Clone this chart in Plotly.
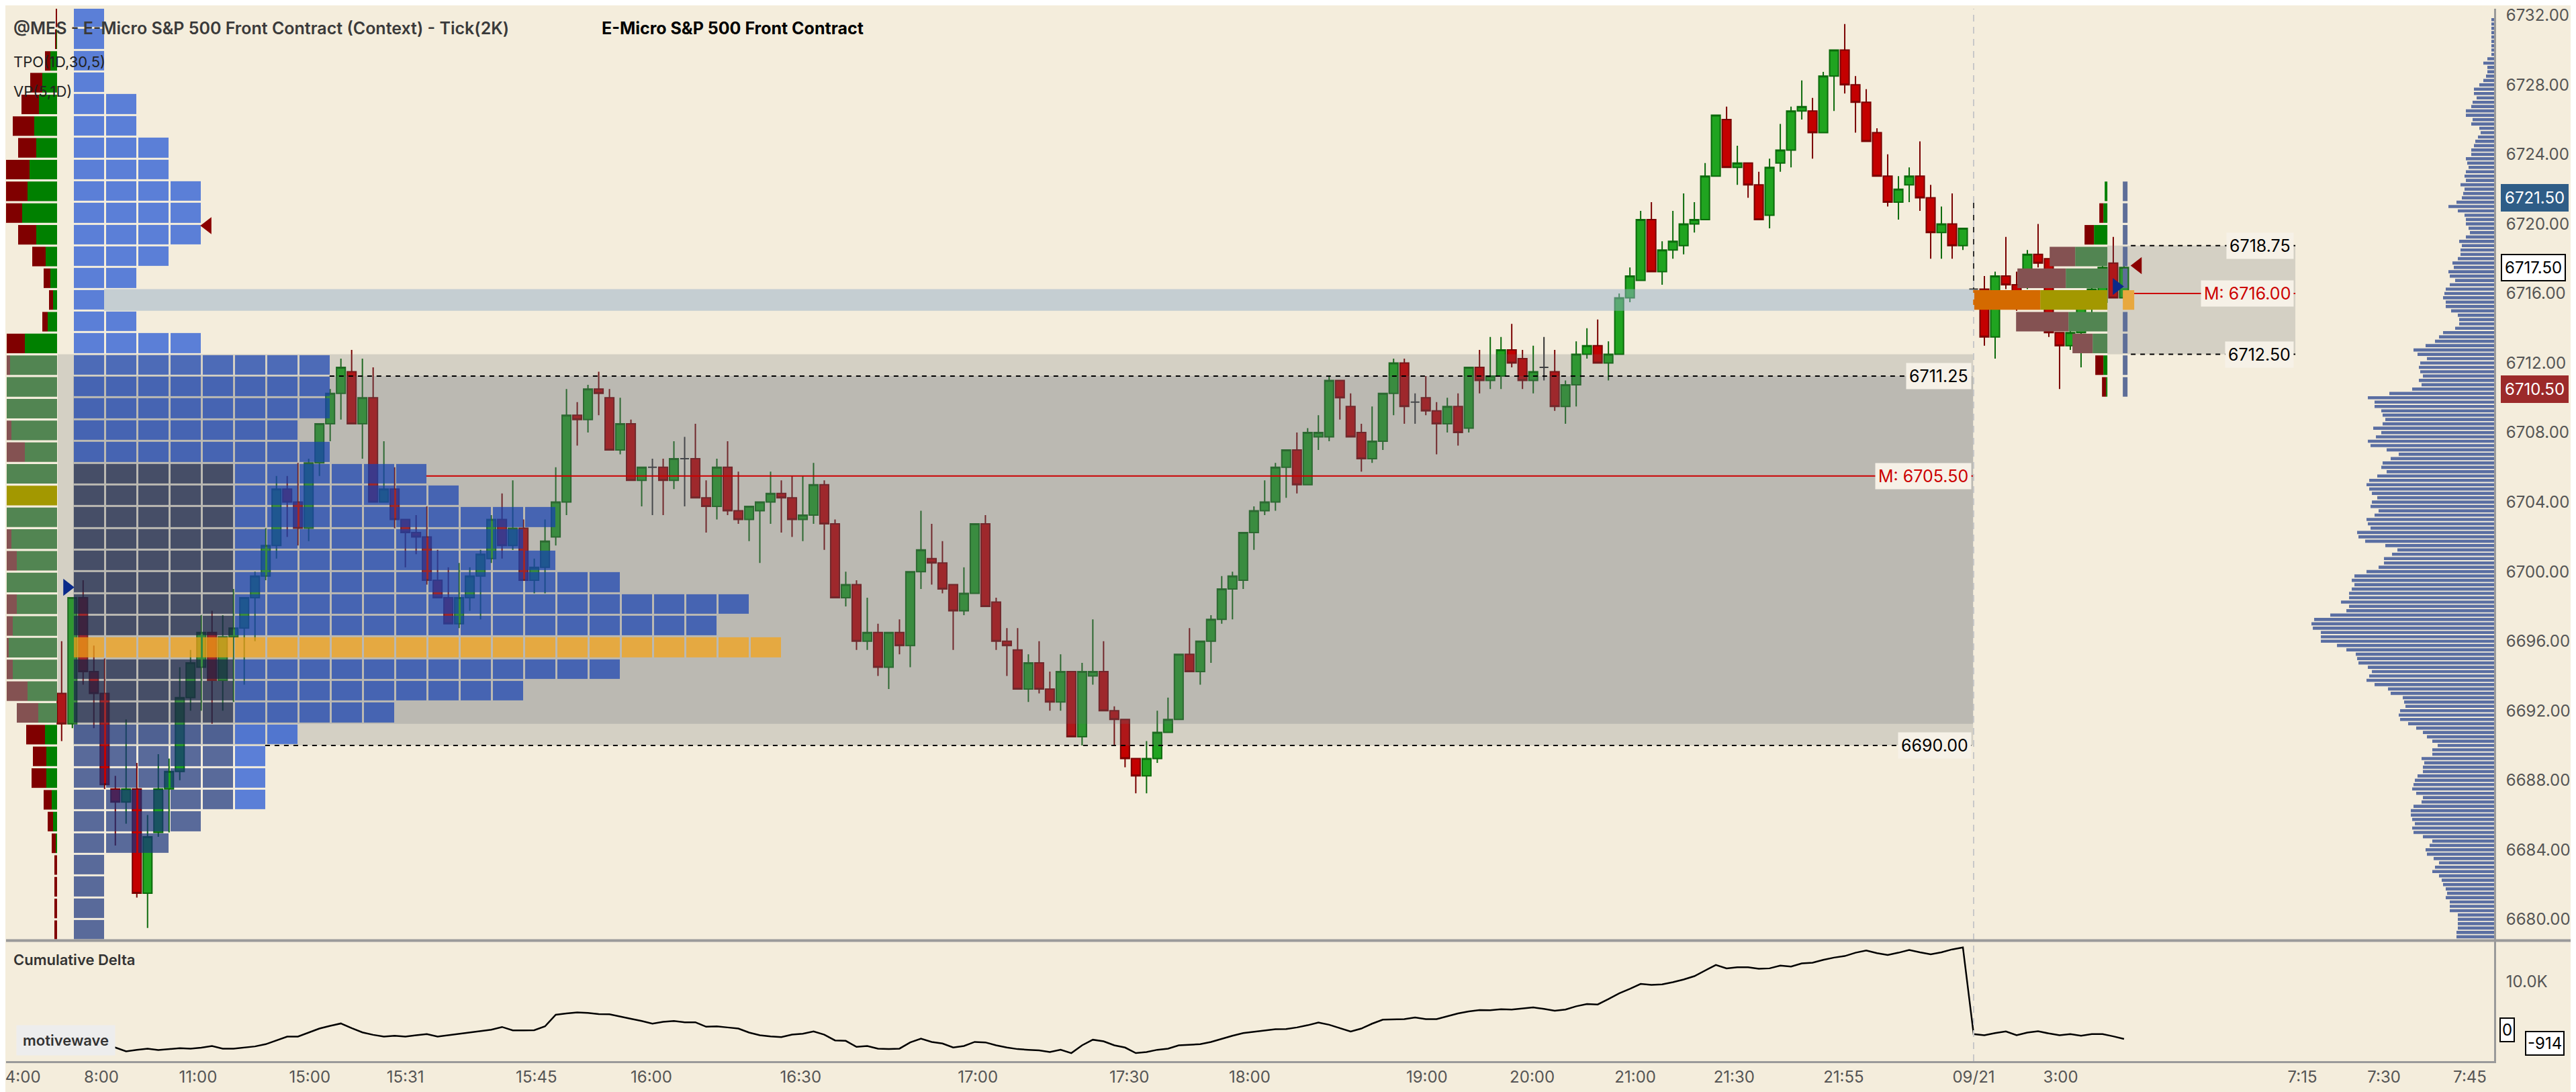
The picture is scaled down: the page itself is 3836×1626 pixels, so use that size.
import plotly.graph_objects as go

# ---------------- data ----------------
# 2K-tick bars, oldest first (bars 0-177 = 09/20 session, 178-192 = 09/21)
bar_open = [
    6693.0, 6691.25, 6698.5, 6694.25, 6693.0, 6687.5, 6686.75, 6687.5, 6681.5, 6685.0,
    6687.5, 6688.5, 6692.75, 6694.5, 6696.5, 6693.75, 6696.25, 6696.75, 6698.5, 6699.75,
    6701.5, 6704.75, 6704.0, 6702.5, 6706.25, 6708.5, 6710.25, 6711.5, 6708.5, 6710.0,
    6704.0, 6704.75, 6703.0, 6702.25, 6702.0, 6699.5, 6698.5, 6697.0, 6698.5, 6699.75,
    6700.75, 6703.0, 6701.5, 6702.5, 6699.5, 6700.25, 6702.0, 6704.0, 6709.0, 6708.75,
    6710.5, 6710.0, 6707.0, 6708.5, 6705.25, 6706.0, 6706.0, 6705.25, 6706.5, 6706.5,
    6704.25, 6703.75, 6706.0, 6703.5, 6703.0, 6703.5, 6704.0, 6704.5, 6704.25, 6703.0,
    6703.25, 6705.0, 6702.75, 6698.5, 6699.25, 6696.0, 6696.5, 6694.5, 6696.5, 6695.75,
    6700.0, 6700.75, 6700.5, 6699.25, 6697.75, 6698.75, 6702.75, 6698.25, 6696.0, 6695.5,
    6693.25, 6694.75, 6693.25, 6692.5, 6694.25, 6690.5, 6694.0, 6694.25, 6692.0, 6691.5,
    6689.25, 6688.25, 6689.25, 6690.75, 6691.5, 6695.25, 6694.25, 6696.0, 6697.25, 6699.0,
    6699.5, 6702.25, 6703.5, 6704.0, 6706.0, 6707.0, 6705.0, 6707.75, 6707.75, 6711.0,
    6709.5, 6708.0, 6706.5, 6707.5, 6710.25, 6712.0, 6709.75, 6710.0, 6709.25, 6708.5,
    6709.5, 6708.25, 6711.75, 6711.0, 6711.25, 6712.75, 6712.25, 6711.0, 6711.75, 6711.5,
    6709.5, 6710.75, 6712.5, 6713.0, 6712.0, 6712.5, 6715.75, 6716.75, 6720.25, 6717.25,
    6718.5, 6718.75, 6720.0, 6720.25, 6722.75, 6726.0, 6723.25, 6723.5, 6722.25, 6720.5,
    6723.5, 6724.25, 6726.5, 6726.5, 6725.25, 6728.5, 6730.0, 6728.0, 6727.0, 6725.25,
    6722.75, 6721.25, 6722.25, 6722.75, 6721.5, 6719.5, 6720.0, 6718.75,
    6716.25, 6716.25, 6713.5, 6717.0, 6716.5, 6716.5, 6718.25, 6718.0, 6713.75, 6713.0,
    6713.75, 6715.25, 6715.5, 6717.75, 6715.75,
]
bar_high = [
    6696.0, 6698.5, 6699.5, 6695.75, 6695.0, 6688.25, 6691.5, 6689.0, 6686.0, 6689.5,
    6689.25, 6694.5, 6695.5, 6697.5, 6697.75, 6697.5, 6699.0, 6698.5, 6700.0, 6702.5,
    6705.5, 6705.5, 6706.25, 6706.5, 6708.5, 6710.5, 6712.25, 6712.75, 6712.25, 6711.75,
    6707.5, 6706.0, 6703.0, 6703.25, 6703.75, 6701.25, 6700.25, 6700.5, 6700.25, 6701.25,
    6703.25, 6704.5, 6705.25, 6703.0, 6700.75, 6703.0, 6706.0, 6710.5, 6709.75, 6710.75,
    6711.5, 6710.5, 6710.0, 6708.75, 6706.0, 6706.5, 6706.5, 6707.5, 6707.75, 6708.5,
    6705.25, 6706.5, 6707.5, 6705.75, 6703.75, 6704.0, 6705.75, 6705.25, 6705.5, 6705.5,
    6706.25, 6705.25, 6703.0, 6700.0, 6699.5, 6698.5, 6697.0, 6696.5, 6697.25, 6700.0,
    6703.5, 6702.75, 6701.75, 6699.25, 6700.25, 6702.75, 6703.25, 6698.5, 6696.75, 6696.75,
    6695.25, 6696.0, 6694.25, 6695.25, 6694.25, 6694.75, 6697.25, 6696.0, 6692.25, 6691.5,
    6689.25, 6690.25, 6692.0, 6692.75, 6695.25, 6696.75, 6696.0, 6697.5, 6699.75, 6700.0,
    6702.25, 6703.75, 6705.25, 6706.25, 6707.0, 6708.0, 6708.25, 6709.0, 6711.25, 6711.0,
    6710.25, 6708.5, 6709.5, 6710.25, 6712.25, 6712.25, 6710.25, 6711.25, 6709.75, 6710.0,
    6710.25, 6711.75, 6712.75, 6713.5, 6713.5, 6714.25, 6712.75, 6713.0, 6713.5, 6712.75,
    6711.0, 6713.25, 6714.0, 6714.5, 6713.25, 6716.0, 6717.5, 6720.75, 6721.25, 6719.0,
    6720.75, 6721.75, 6721.25, 6723.5, 6726.25, 6726.75, 6724.5, 6723.5, 6723.0, 6723.75,
    6725.75, 6726.75, 6728.25, 6727.25, 6728.75, 6730.0, 6731.5, 6728.5, 6727.75, 6725.5,
    6724.0, 6722.75, 6723.25, 6724.75, 6722.25, 6721.0, 6721.75, 6719.75,
    6721.5, 6717.0, 6717.25, 6719.25, 6717.25, 6718.5, 6720.0, 6718.0, 6713.75, 6714.0,
    6715.5, 6716.5, 6717.75, 6719.25, 6717.75,
]
bar_low = [
    6690.25, 6691.0, 6693.5, 6691.0, 6687.5, 6684.25, 6685.5, 6681.25, 6679.5, 6684.75,
    6685.0, 6688.0, 6692.0, 6692.0, 6691.25, 6692.0, 6692.5, 6693.5, 6696.0, 6699.5,
    6700.75, 6702.0, 6701.5, 6701.75, 6705.5, 6707.5, 6708.75, 6708.5, 6706.5, 6704.0,
    6704.0, 6702.5, 6700.25, 6701.0, 6699.25, 6698.5, 6697.0, 6696.75, 6697.75, 6697.25,
    6700.5, 6700.75, 6701.25, 6699.5, 6698.75, 6698.75, 6701.5, 6703.25, 6707.25, 6708.0,
    6709.0, 6707.0, 6706.75, 6705.25, 6703.75, 6703.25, 6703.25, 6704.75, 6703.75, 6704.25,
    6702.25, 6703.0, 6703.25, 6702.75, 6701.75, 6700.5, 6702.75, 6702.25, 6702.0, 6701.75,
    6702.75, 6701.25, 6698.5, 6698.0, 6695.5, 6695.5, 6694.0, 6693.25, 6695.25, 6694.5,
    6699.0, 6699.25, 6698.75, 6695.5, 6697.5, 6698.75, 6698.0, 6695.5, 6694.0, 6693.25,
    6692.5, 6693.0, 6692.0, 6692.0, 6690.5, 6690.0, 6693.5, 6692.0, 6690.0, 6688.75,
    6687.25, 6687.25, 6689.0, 6690.75, 6691.5, 6694.25, 6693.5, 6694.75, 6697.0, 6697.25,
    6699.0, 6701.25, 6703.25, 6703.5, 6704.25, 6704.5, 6705.0, 6707.0, 6707.5, 6708.75,
    6707.75, 6705.75, 6706.25, 6707.0, 6709.0, 6708.5, 6708.5, 6709.0, 6706.75, 6708.0,
    6707.25, 6708.0, 6710.25, 6710.5, 6710.5, 6711.75, 6710.5, 6710.25, 6711.0, 6709.25,
    6708.5, 6709.5, 6712.25, 6712.0, 6711.0, 6712.5, 6715.5, 6716.75, 6717.25, 6716.5,
    6718.0, 6718.25, 6719.5, 6720.25, 6722.75, 6723.25, 6722.25, 6721.5, 6720.25, 6719.75,
    6723.0, 6723.25, 6726.0, 6723.75, 6725.25, 6726.5, 6727.5, 6725.25, 6724.75, 6722.75,
    6721.0, 6720.25, 6721.25, 6720.75, 6718.0, 6718.0, 6718.0, 6718.5,
    6716.25, 6713.0, 6712.25, 6716.25, 6715.0, 6716.25, 6717.5, 6713.5, 6710.5, 6712.75,
    6711.75, 6714.5, 6715.25, 6715.75, 6715.5,
]
bar_close = [
    6691.25, 6698.5, 6694.25, 6693.0, 6687.75, 6686.75, 6687.5, 6681.5, 6684.75, 6687.5,
    6688.5, 6692.75, 6694.75, 6696.5, 6693.75, 6696.25, 6696.75, 6698.5, 6699.75, 6701.5,
    6704.75, 6704.0, 6702.5, 6706.25, 6708.5, 6710.25, 6711.75, 6708.5, 6710.0, 6704.0,
    6704.75, 6703.0, 6702.25, 6702.0, 6699.5, 6698.5, 6697.0, 6698.5, 6699.75, 6701.0,
    6703.0, 6701.5, 6702.5, 6699.5, 6700.25, 6701.75, 6704.0, 6709.0, 6708.75, 6710.5,
    6710.25, 6707.0, 6708.5, 6705.25, 6706.0, 6706.0, 6705.25, 6706.5, 6706.5, 6704.25,
    6703.75, 6706.0, 6703.5, 6703.0, 6703.75, 6704.0, 6704.5, 6704.25, 6703.0, 6703.25,
    6705.0, 6702.75, 6698.5, 6699.25, 6696.0, 6696.5, 6694.5, 6696.5, 6695.75, 6700.0,
    6701.25, 6700.5, 6699.0, 6697.75, 6698.75, 6702.75, 6698.0, 6696.0, 6695.75, 6693.25,
    6694.75, 6693.25, 6692.5, 6694.25, 6690.5, 6694.25, 6694.25, 6692.0, 6691.5, 6689.25,
    6688.25, 6689.25, 6690.75, 6691.5, 6695.25, 6694.25, 6696.0, 6697.25, 6699.0, 6699.75,
    6702.25, 6703.5, 6704.0, 6706.0, 6707.0, 6705.0, 6708.0, 6708.0, 6711.0, 6710.0,
    6707.75, 6706.5, 6707.5, 6710.25, 6712.0, 6709.5, 6709.75, 6709.25, 6708.5, 6709.5,
    6708.0, 6711.75, 6711.0, 6711.25, 6712.75, 6712.0, 6711.0, 6711.5, 6711.75, 6709.5,
    6710.75, 6712.5, 6713.0, 6712.0, 6712.5, 6715.75, 6717.0, 6720.25, 6717.25, 6718.5,
    6719.0, 6720.0, 6720.25, 6722.75, 6726.25, 6723.25, 6723.5, 6722.25, 6720.25, 6723.25,
    6724.25, 6726.5, 6726.75, 6725.25, 6728.5, 6730.0, 6728.0, 6727.0, 6724.75, 6722.75,
    6721.25, 6722.0, 6722.75, 6721.5, 6719.5, 6720.0, 6718.75, 6719.75,
    6716.25, 6713.5, 6717.0, 6716.5, 6715.25, 6718.25, 6717.75, 6713.75, 6713.0, 6713.75,
    6715.25, 6716.25, 6717.5, 6715.75, 6717.5,
]

# cumulative delta, one value per bar
cum_delta = [
    340, -400, -1200, -2000, -2400,
    -2540, -3260, -2970, -2750, -3010, -2840, -2670, -2750, -2580, -2250,
    -2750, -2750, -2540, -2330, -1910, -1190, -470, -470, 300, 1060,
    1570, 2030, 1140, 340, -130, -470, -300, -470, -210, 0,
    -470, -210, 40, 300, 550, 850, 1360, 720, 720, 760,
    1480, 3680, 3940, 4110, 4020, 3810, 3770, 3390, 2920, 2500,
    1990, 2330, 2500, 2250, 2250, 1400, 1480, 1270, 1060, 300,
    -210, -420, -550, -90, 90, 510, -90, -1190, -1270, -2410,
    -2250, -2750, -2840, -2750, -1570, -850, -1480, -1780, -2540, -2250,
    -1480, -1570, -2120, -2540, -2840, -2970, -3090, -3390, -2970, -3600,
    -2120, -1060, -1360, -2120, -2540, -3600, -3390, -2970, -2750, -2120,
    -1990, -1910, -1480, -850, -300, 210, 420, 640, 930, 970,
    1270, 1690, 2200, 1780, 1140, 510, 1060, 1990, 2750, 2840,
    2840, 3180, 2840, 2840, 3390, 3940, 4320, 4570, 4530, 4740,
    4660, 4870, 5080, 4790, 4450, 4660, 5290, 5720, 5630, 6650,
    7750, 8600, 9530, 9360, 9440, 9870, 10380, 11010, 12070, 13130,
    12490, 12710, 12710, 12410, 12490, 13000, 12830, 13430, 13550, 14100,
    14530, 14820, 15460, 15880, 15370, 15030, 15460, 15970, 15540, 15160,
    15540, 16090, 16470,
    0, -210, 210, 510, -210, 300, 550, 130, -210, 0, -300, 0, 0, -420, -914,
]

time_labels = ['4:00', '8:00', '11:00', '15:00', '15:31', '15:45', '16:00', '16:30', '17:00',
               '17:30', '18:00', '19:00', '20:00', '21:00', '21:30', '21:55', '09/21', '3:00',
               '7:15', '7:30', '7:45']
time_label_bar = [-3.6, 3.7, 12.7, 23.1, 32.0, 44.2, 54.9, 68.8, 85.3, 99.4, 110.6, 127.1,
                  136.9, 146.5, 155.7, 165.9, 178.0, 186.1, 208.6, 216.2, 224.2]

# 09/20 session TPO (1.25 pt rows, top row first) and split volume profile
tpo_row_top = 6732.5
tpo_counts = [1, 1, 1, 1, 2, 2, 3, 3, 4, 4, 4, 3, 2, 1, 2, 4, 8, 8, 8, 7, 8, 11, 12, 15, 14, 15,
              17, 21, 20, 22, 17, 14, 10, 7, 6, 6, 6, 4, 3, 1, 1, 1, 1]
s1_sell = [2, 2, 8, 18, 26, 32, 27, 36, 32, 24, 27, 20, 10, 6, 8, 27, 5, 0, 0, 7, 27, 0, 0, 0,
           7, 15, 0, 15, 9, 3, 9, 31, 32, 28, 20, 22, 12, 8, 6, 4, 4, 4, 4]
s1_buy = [0, 1, 10, 22, 27, 34, 31, 41, 44, 52, 31, 17, 10, 6, 14, 48, 70, 75, 75, 68, 48, 75,
          75, 75, 68, 60, 75, 60, 66, 72, 66, 44, 28, 18, 16, 16, 8, 6, 2, 0, 0, 0, 0]

# 09/21 session split volume profile (1.25 pt rows, top row first)
s2_row_top = 6722.5
s2_sell = [0, 6, 14, 38, 72, 100, 78, 30, 12, 6]
s2_buy = [4, 6, 20, 48, 62, 100, 58, 22, 6, 2]

# composite volume profile on the right edge (0.25 pt rows, top row first)
cvp_top = 6731.75
cvp_volume = [
    12, 12, 12, 12, 12, 12, 12, 12, 12, 30, 48, 30, 30, 36, 48, 66, 90, 90, 78, 96,
    102, 126, 126, 96, 102, 66, 60, 72, 84, 90, 102, 102, 126, 120, 114, 126, 132, 126, 150, 132,
    138, 144, 168, 204, 162, 132, 126, 126, 114, 108, 126, 156, 144, 150, 150, 162, 186, 180, 204, 198,
    174, 198, 216, 222, 228, 216, 216, 192, 162, 156, 156, 174, 228, 246, 264, 306, 360, 342, 300, 330,
    336, 330, 318, 336, 324, 366, 468, 564, 534, 534, 504, 498, 486, 498, 540, 504, 528, 564, 552, 480,
    426, 462, 498, 504, 480, 522,
    558, 570, 558, 546, 522, 546, 552, 516, 534, 570, 564, 552, 612, 606, 576, 486, 432, 456, 492, 492,
    516, 570, 624, 636, 624, 636, 648, 648, 684, 648, 660, 732, 804, 816, 810, 774, 774, 774, 702, 660,
    618, 612, 606, 564, 546, 558, 570, 534, 474, 462, 408, 402, 396, 420, 426, 420, 384, 348, 318, 300,
    276, 252, 276, 276, 324, 312, 318, 318, 342, 354, 360, 366, 348, 318, 324, 360, 372, 372, 366, 354,
    366, 360, 318, 276, 288, 306, 300, 270, 246, 264, 276, 246, 234, 228, 216, 210, 216, 198, 198, 198,
    162, 162, 162, 162, 168, 168, 180,
]

# key levels
s1_vah, s1_val, s1_mid = 6711.25, 6690.00, 6705.50
s1_va_zone = (6691.25, 6712.50)
s1_tpo_poc = 6696.25   # top of the TPO POC row
s1_vpoc = 6705.00      # top of the volume POC row
s2_vah, s2_val, s2_mid = 6718.75, 6712.50, 6716.00
s2_vpoc = 6716.25
prior_poc_zone = (6715.00, 6716.25)
open_mark_bar, open_mark_price = [0.5, 191.3], [6699.1, 6716.4]
close_mark_bar, close_mark_price = [13.6, 193.3], [6719.9, 6717.6]
last_marks = [(6721.50, '#2F5D87', 'white', '#2F5D87'),
              (6717.50, 'white', 'black', 'black'),
              (6710.50, '#9C2A2A', 'white', '#9C2A2A')]

# ---------------- geometry / style ----------------
W, H = 3836, 1626
PLOT_W, PLOT_H = 3706, 1572
BAR_PX, BAR0_PX = 16.0, 82.8
PX_PER_PT = 25.97
Y_TOP = 6732.0 + 9.8 / PX_PER_PT
MAIN_PX = 1390
Y_BOT = Y_TOP - MAIN_PX / PX_PER_PT
MAIN_DOM = [1 - MAIN_PX / PLOT_H, 1]
LOW_DOM = [0, 1 - 1393 / PLOT_H]
LOW_RANGE = [-5120, 17630]
ROW = 1.25
BG = '#F4EDDC'
FONT = 'Inter, Roboto, sans-serif'


def bx(px):
    return (px - BAR0_PX) / BAR_PX


X_RANGE = [bx(0), bx(PLOT_W)]
S1_END = bx(2930)
S2_BOX = (bx(3130), bx(3410))
TPO_X0, TPO_COL = 100, 48
IB_COLS, IB_TOP = 5, 6706.25


def rect(x0, x1, y0, y1, color, xa='x', ya='y'):
    return go.Scatter(x=[x0, x1, x1, x0, x0], y=[y0, y0, y1, y1, y0], mode='lines',
                      fill='toself', fillcolor=color, line=dict(width=0),
                      hoverinfo='skip', showlegend=False, xaxis=xa, yaxis=ya)


def tpo_end(level):
    i = int((tpo_row_top - level) / ROW + 1e-9)
    return bx(TPO_X0 + TPO_COL * tpo_counts[i] - 2)


bars = list(range(len(bar_close)))
up = [i for i in bars if bar_close[i] > bar_open[i]]
dn = [i for i in bars if bar_close[i] < bar_open[i]]
dj = [i for i in bars if bar_close[i] == bar_open[i]]

data = []
for idx, fill, edge in ((up, '#20A420', '#0B6A0B'), (dn, '#C40000', '#7A0000'),
                        (dj, '#333333', '#333333')):
    data.append(go.Candlestick(
        x=idx, open=[bar_open[i] for i in idx], high=[bar_high[i] for i in idx],
        low=[bar_low[i] for i in idx], close=[bar_close[i] for i in idx],
        increasing=dict(fillcolor=fill, line=dict(color=edge, width=2)),
        decreasing=dict(fillcolor=fill, line=dict(color=edge, width=2)),
        whiskerwidth=0, showlegend=False, hoverinfo='skip'))

# translucent value-area boxes and prior POC band (above the candles)
VA_GREY = 'rgba(100,105,115,0.22)'
data.append(rect(bx(77), S1_END, s1_va_zone[0], s1_va_zone[1], VA_GREY))
data.append(rect(bx(100), S1_END, s1_val, s1_vah, VA_GREY))
data.append(rect(tpo_end(prior_poc_zone[1]), S1_END, prior_poc_zone[0], prior_poc_zone[1],
                 'rgba(150,175,200,0.5)'))
data.append(rect(S2_BOX[0], S2_BOX[1], s2_val, s2_vah, VA_GREY))

# TPO blocks as a categorical heatmap on an overlay subplot
n_rows, n_cols = len(tpo_counts), max(tpo_counts)
row_top = [tpo_row_top - ROW * i for i in range(n_rows)]


def tpo_cat(top, k):
    in_va = top - ROW >= s1_va_zone[0] - 1e-9 and top <= s1_va_zone[1] + 1e-9
    if abs(top - s1_tpo_poc) < 1e-9:
        return 5
    if in_va and k < IB_COLS and top <= IB_TOP:
        return 3
    if in_va:
        return 2
    if top <= s1_va_zone[0] and k < IB_COLS:
        return 4
    return 1


z = [[tpo_cat(row_top[i], k) if k < tpo_counts[i] else None for k in range(n_cols)]
     for i in range(n_rows)]
cols = ['rgb(26,80,212)', 'rgb(20,64,178)', 'rgb(21,34,72)', 'rgb(24,50,126)', 'rgb(247,163,18)']
cscale = []
for j, c in enumerate(cols):
    cscale += [[j / 5, c], [(j + 1) / 5, c]]
data.append(go.Heatmap(
    x=[bx(TPO_X0 + TPO_COL * k + TPO_COL / 2) for k in range(n_cols)],
    y=[t - ROW / 2 for t in row_top], z=z, zmin=0.5, zmax=5.5, colorscale=cscale,
    showscale=False, xgap=3, ygap=3, opacity=0.7, hoverinfo='skip',
    xaxis='x2', yaxis='y2'))


def split_profile(top0, sells, buys, right_px, va, poc):
    ys, bases, lens, colors = [], [], [], []
    right = bx(right_px)
    for i, (s, b) in enumerate(zip(sells, buys)):
        top = top0 - ROW * i
        yc = top - ROW / 2
        if abs(top - poc) < 1e-9:
            cs, cb = '#D46A00', '#A39800'
        elif top - ROW >= va[0] - 1e-9 and top <= va[1] + 1e-9:
            cs, cb = '#845252', '#528552'
        else:
            cs, cb = '#800000', '#008000'
        gl, sl = b / BAR_PX, s / BAR_PX
        ys += [yc, yc]
        bases += [right - gl, right - gl - sl]
        lens += [gl, sl]
        colors += [cb, cs]
    return go.Bar(orientation='h', y=ys, x=lens, base=bases, width=ROW * 0.9,
                  marker=dict(color=colors, line=dict(width=0)), hoverinfo='skip',
                  showlegend=False, xaxis='x2', yaxis='y2')


data.append(split_profile(tpo_row_top, s1_sell, s1_buy, 76, s1_va_zone, s1_vpoc))
data.append(split_profile(s2_row_top, s2_sell, s2_buy, 3130, (s2_val, s2_vah), s2_vpoc))

# 09/21 TPO column (one period so far)
s2_rows = [s2_row_top - ROW * i - ROW / 2 for i in range(len(s2_sell))]
data.append(go.Bar(
    orientation='h', y=s2_rows,
    x=[(17 if abs(y + ROW / 2 - s2_vpoc) < 1e-9 else 7) / BAR_PX for y in s2_rows],
    base=[bx(3153)] * len(s2_rows), width=ROW * 0.9,
    marker=dict(color=['#E8A83E' if abs(y + ROW / 2 - s2_vpoc) < 1e-9 else '#5E6E98'
                       for y in s2_rows], line=dict(width=0)),
    hoverinfo='skip', showlegend=False, xaxis='x2', yaxis='y2'))

data.append(go.Scatter(x=open_mark_bar, y=open_mark_price, mode='markers',
                       marker=dict(symbol='triangle-right', size=22, color='#0A2A8A'),
                       hoverinfo='skip', showlegend=False, xaxis='x2', yaxis='y2'))
data.append(go.Scatter(x=close_mark_bar, y=close_mark_price, mode='markers',
                       marker=dict(symbol='triangle-left', size=22, color='#8B0000'),
                       hoverinfo='skip', showlegend=False, xaxis='x2', yaxis='y2'))

# composite volume profile hugging the price axis
data.append(go.Bar(orientation='h', x=cvp_volume,
                   y=[cvp_top - 0.25 * i for i in range(len(cvp_volume))], width=0.18,
                   marker=dict(color='#5A6EA2', line=dict(width=0)), hoverinfo='skip',
                   showlegend=False, xaxis='x3', yaxis='y'))

# cumulative delta panel
data.append(go.Scatter(x=bars, y=cum_delta, mode='lines', line=dict(color='black', width=2.5),
                       hoverinfo='skip', showlegend=False, xaxis='x', yaxis='y4'))

fig = go.Figure(data=data)

# ---------------- lines and labels ----------------
shapes = []
annotations = []


def level(x0, x1, y, color='black', dash='7px,7px'):
    shapes.append(dict(type='line', xref='x', yref='y', x0=x0, x1=x1, y0=y, y1=y,
                       line=dict(color=color, width=2, dash=dash), layer='above'))


def tag(x, y, text, color='black'):
    annotations.append(dict(x=x, y=y, xref='x', yref='y', text=text, showarrow=False,
                            xanchor='right', yanchor='middle', bgcolor='#F6F1E7',
                            borderpad=4, font=dict(family=FONT, size=25, color=color)))


level(tpo_end(s1_vah), S1_END, s1_vah)
level(tpo_end(s1_val), S1_END, s1_val)
level(tpo_end(s1_mid), S1_END, s1_mid, '#CC0000', 'solid')
tag(bx(2928), s1_vah, f'{s1_vah:.2f}')
tag(bx(2928), s1_val, f'{s1_val:.2f}')
tag(bx(2928), s1_mid, f'M: {s1_mid:.2f}', '#CC0000')
level(bx(3165), S2_BOX[1], s2_vah)
level(bx(3165), S2_BOX[1], s2_val)
level(bx(3170), S2_BOX[1], s2_mid, '#CC0000', 'solid')
tag(bx(3408), s2_vah, f'{s2_vah:.2f}')
tag(bx(3408), s2_val, f'{s2_val:.2f}')
tag(bx(3408), s2_mid, f'M: {s2_mid:.2f}', '#CC0000')

# session break
shapes.append(dict(type='line', xref='x', yref='paper', x0=178, x1=178, y0=0, y1=1,
                   line=dict(color='#C8C8C8', width=2, dash='10px,8px'), layer='above'))
# panel separator
shapes.append(dict(type='line', xref='paper', yref='paper', x0=0, x1=W / PLOT_W,
                   y0=1 - 1392 / PLOT_H, y1=1 - 1392 / PLOT_H,
                   line=dict(color='#9A9A9A', width=4), layer='above'))

for price, bg, fg, border in last_marks:
    annotations.append(dict(x=1, y=price, xref='paper', yref='y', xanchor='left',
                            yanchor='middle', xshift=10, text=f'{price:.2f}', showarrow=False,
                            bgcolor=bg, bordercolor=border, borderwidth=2, borderpad=4,
                            font=dict(family=FONT, size=24, color=fg)))
annotations.append(dict(x=1, y=cum_delta[-1], xref='paper', yref='y4', xanchor='left',
                        yanchor='middle', xshift=46, yshift=-6, text=f'{cum_delta[-1]}',
                        showarrow=False, bgcolor='white', bordercolor='black', borderwidth=2,
                        borderpad=2, font=dict(family=FONT, size=24, color='black')))
annotations.append(dict(x=1, y=0, xref='paper', yref='y4', xanchor='left', yanchor='middle',
                        xshift=8, yshift=6, text='0', showarrow=False, bgcolor='white',
                        bordercolor='black', borderwidth=2, borderpad=2,
                        font=dict(family=FONT, size=24, color='black')))


def paper_text(px, py, text, size, color, weight='normal', bg=None, pad=0, anchor='left'):
    annotations.append(dict(x=px / PLOT_W, y=1 - py / PLOT_H, xref='paper', yref='paper',
                            xanchor=anchor, yanchor='middle', text=text, showarrow=False,
                            bgcolor=bg, borderpad=pad,
                            font=dict(family=FONT, size=size, color=color, weight=weight)))


paper_text(10, 29, '@MES - E-Micro S&amp;P 500 Front Contract (Context) - Tick(2K)', 25,
           '#3A3A3A', 600)
paper_text(886, 29, 'E-Micro S&amp;P 500 Front Contract', 25, 'black', 'bold')
paper_text(10, 79, 'TPO(1D,30,5)', 22, '#222222')
paper_text(10, 123, 'VP(5,1D)', 22, '#222222')
paper_text(10, 1421, 'Cumulative Delta', 22, '#333333', 600)
paper_text(89, 1541, 'motivewave', 22, '#333333', 600, '#EDEDED', 9, 'center')

axis_font = dict(family=FONT, size=24, color='#555555')
fig.update_layout(
    width=W, height=H, margin=dict(l=0, r=W - PLOT_W, t=0, b=H - PLOT_H),
    paper_bgcolor=BG, plot_bgcolor=BG, barmode='overlay', boxgap=0.18, boxgroupgap=0,
    showlegend=False, shapes=shapes, annotations=annotations,
    xaxis=dict(range=X_RANGE, anchor='y4', showgrid=False, zeroline=False,
               rangeslider=dict(visible=False), ticklabeloverflow='allow',
               tickvals=time_label_bar, ticktext=time_labels, tickfont=axis_font,
               ticks='', showline=True, linecolor='#9A9A9A', linewidth=3),
    yaxis=dict(domain=MAIN_DOM, range=[Y_BOT, Y_TOP], anchor='x', side='right',
               showgrid=False, zeroline=False, tickvals=list(range(6680, 6733, 4)),
               ticktext=[f'{v:.2f}' for v in range(6680, 6733, 4)], tickfont=axis_font,
               ticks='', ticklabelstandoff=10, ticklabeloverflow='allow', showline=True,
               linecolor='#9A9A9A', linewidth=3),
    xaxis2=dict(range=X_RANGE, overlaying='x', anchor='y2', visible=False,
                rangeslider=dict(visible=False)),
    yaxis2=dict(range=[Y_BOT, Y_TOP], overlaying='y', anchor='x2', visible=False),
    xaxis3=dict(range=[PLOT_W * 3, 0], overlaying='x', anchor='y', visible=False),
    yaxis4=dict(domain=LOW_DOM, range=LOW_RANGE, anchor='x', side='right',
                showgrid=False, zeroline=False, tickvals=[10000], ticktext=['10.0K'],
                tickfont=axis_font, ticks='', ticklabelstandoff=10,
                ticklabeloverflow='allow', showline=True, linecolor='#9A9A9A', linewidth=3),
)

fig.write_html("out.html")
